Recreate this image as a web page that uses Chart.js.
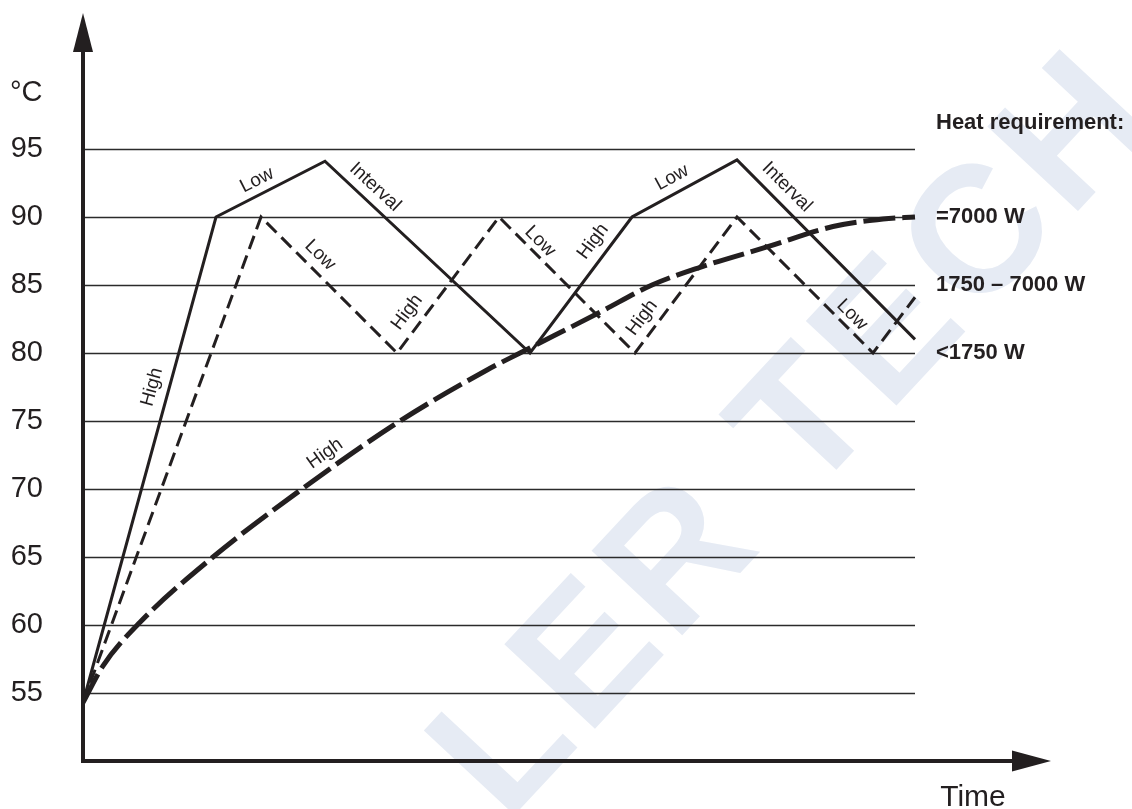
<!DOCTYPE html>
<html>
<head>
<meta charset="utf-8">
<title>Heat requirement</title>
<script src="https://cdn.jsdelivr.net/npm/chart.js"></script>
<style>
  html, body { margin: 0; padding: 0; background: #fff; }
  #wrap { width: 1132px; height: 809px; }
</style>
</head>
<body>
<div id="wrap"><canvas id="heatChart" width="1132" height="809"></canvas></div>
<script>
//////////////////////////data////////////////////////////////
// time is in arbitrary units (0 = the y axis), temperature in °C
var yTicks = [55, 60, 65, 70, 75, 80, 85, 90, 95];

// =7000 W
var timeFull = [0, 133, 242, 447, 549, 654, 832];
var tempFull = [54.3, 90, 94.1, 80, 90, 94.2, 81];

// 1750 – 7000 W
var timeMid = [0, 178, 314, 416, 552, 654, 790, 832];
var tempMid = [54.3, 90, 80, 90, 80, 90, 80, 84.1];

// <1750 W
var timeLow = [0, 20, 57, 130, 219, 317, 404, 437, 517, 569, 617, 684, 750, 800, 832];
var tempLow = [54.3, 57.0, 60.2, 65, 70, 75, 78.75, 80, 83, 85, 86.3, 87.8, 89.3, 89.85, 90];

var seriesNames = ['=7000 W', '1750 – 7000 W', '<1750 W'];

//////////////////////////text placed on the chart/////////////////
var INK = '#231f20';
var FONT = '"Liberation Sans", Arial, Helvetica, sans-serif';

// [text, time, temp, angle in degrees]
var lineNotes = [
  ['High', 69, 77.5, -74.7],
  ['Low', 174, 92.7, -27],
  ['Interval', 292, 92.2, 43],
  ['Low', 237, 87.2, 44.4],
  ['High', 324, 83.0, -53],
  ['Low', 457, 88.2, 45],
  ['High', 510, 88.2, -53],
  ['High', 559, 82.6, -53],
  ['Low', 589, 92.9, -28.5],
  ['Interval', 704, 92.2, 45],
  ['Low', 769, 82.8, 45],
  ['High', 242, 72.6, -35]
];

function toPoints(xs, ys) {
  return xs.map(function (x, i) { return { x: x, y: ys[i] }; });
}

/////////////////////////plugin for axes, grid and notes/////////////
var paperPlugin = {
  id: 'paper',
  beforeDraw: function (chart) {
    var ctx = chart.ctx;
    // faint watermark
    ctx.save();
    ctx.translate(470, 790);
    ctx.rotate(-47 * Math.PI / 180);
    ctx.fillStyle = '#e6ebf4';
    ctx.font = 'bold 180px ' + FONT;
    ctx.letterSpacing = '8px';
    ctx.textAlign = 'left';
    ctx.textBaseline = 'middle';
    ctx.fillText('LER TECH', 0, 0);
    ctx.restore();
  },
  beforeDatasetsDraw: function (chart) {
    var ctx = chart.ctx;
    var xs = chart.scales.x;
    var ys = chart.scales.y;
    var area = chart.chartArea;
    var gridEnd = xs.getPixelForValue(832);

    ctx.save();
    // horizontal grid lines
    ctx.strokeStyle = '#2b2b2b';
    ctx.lineWidth = 1.4;
    yTicks.forEach(function (v) {
      var py = Math.round(ys.getPixelForValue(v)) + 0.5;
      ctx.beginPath();
      ctx.moveTo(area.left, py);
      ctx.lineTo(gridEnd, py);
      ctx.stroke();
    });

    // axes with arrow heads
    ctx.strokeStyle = INK;
    ctx.fillStyle = INK;
    ctx.lineWidth = 4;
    ctx.beginPath();
    ctx.moveTo(area.left, area.bottom + 2);
    ctx.lineTo(area.left, area.top + 30);
    ctx.moveTo(area.left - 2, area.bottom);
    ctx.lineTo(area.right - 30, area.bottom);
    ctx.stroke();

    ctx.beginPath();
    ctx.moveTo(area.left, area.top);
    ctx.lineTo(area.left - 10, area.top + 39);
    ctx.lineTo(area.left + 10, area.top + 39);
    ctx.closePath();
    ctx.fill();

    ctx.beginPath();
    ctx.moveTo(area.right, area.bottom);
    ctx.lineTo(area.right - 39, area.bottom - 10.5);
    ctx.lineTo(area.right - 39, area.bottom + 10.5);
    ctx.closePath();
    ctx.fill();
    ctx.restore();
  },
  afterDatasetsDraw: function (chart) {
    var ctx = chart.ctx;
    var xs = chart.scales.x;
    var ys = chart.scales.y;

    ctx.save();
    ctx.fillStyle = INK;

    // labels along the lines
    ctx.font = '19px ' + FONT;
    ctx.textAlign = 'center';
    ctx.textBaseline = 'middle';
    lineNotes.forEach(function (n) {
      ctx.save();
      ctx.translate(xs.getPixelForValue(n[1]), ys.getPixelForValue(n[2]));
      ctx.rotate(n[3] * Math.PI / 180);
      ctx.fillText(n[0], 0, 0);
      ctx.restore();
    });

    // heat requirement labels on the right
    var rightX = xs.getPixelForValue(853);
    ctx.font = 'bold 22px ' + FONT;
    ctx.textAlign = 'left';
    ctx.fillText('Heat requirement:', rightX, ys.getPixelForValue(96.9));
    [90, 85, 80].forEach(function (v, i) {
      ctx.fillText(seriesNames[i], rightX, ys.getPixelForValue(v));
    });

    // axis titles
    ctx.font = '29px ' + FONT;
    ctx.fillText('°C', 10, ys.getPixelForValue(99.1));
    ctx.font = '30px ' + FONT;
    ctx.textAlign = 'center';
    ctx.textBaseline = 'alphabetic';
    ctx.fillText('Time', xs.getPixelForValue(890), ys.getPixelForValue(46.7));
    ctx.restore();
  }
};

/////////////////////////chart////////////////////////////////
var heatChart = new Chart(document.getElementById('heatChart'), {
  type: 'line',
  data: {
    datasets: [
      {
        label: seriesNames[0],
        data: toPoints(timeFull, tempFull),
        borderColor: INK,
        borderWidth: 3,
        borderJoinStyle: 'miter',
        tension: 0
      },
      {
        label: seriesNames[1],
        data: toPoints(timeMid, tempMid),
        borderColor: INK,
        borderWidth: 3,
        borderDash: [14, 7],
        borderJoinStyle: 'miter',
        tension: 0
      },
      {
        label: seriesNames[2],
        data: toPoints(timeLow, tempLow),
        borderColor: INK,
        borderWidth: 5,
        borderDash: [32, 7],
        cubicInterpolationMode: 'monotone'
      }
    ]
  },
  options: {
    responsive: false,
    animation: false,
    devicePixelRatio: 1,
    layout: {
      padding: { top: 13, right: 81, bottom: 48, left: 0 }
    },
    elements: {
      point: { radius: 0, hoverRadius: 0 }
    },
    plugins: {
      legend: { display: false },
      tooltip: { enabled: false }
    },
    scales: {
      x: {
        type: 'linear',
        min: 0,
        max: 968,
        display: false
      },
      y: {
        type: 'linear',
        min: 50,
        max: 105,
        afterBuildTicks: function (axis) {
          axis.ticks = yTicks.map(function (v) { return { value: v }; });
        },
        afterFit: function (axis) {
          axis.width = 83;
          axis.paddingTop = 0;
          axis.paddingBottom = 0;
        },
        grid: { display: false },
        border: { display: false },
        ticks: {
          padding: 32,
          color: INK,
          autoSkip: false,
          font: { family: FONT, size: 29 }
        }
      }
    }
  },
  plugins: [paperPlugin]
});
</script>
</body>
</html>
